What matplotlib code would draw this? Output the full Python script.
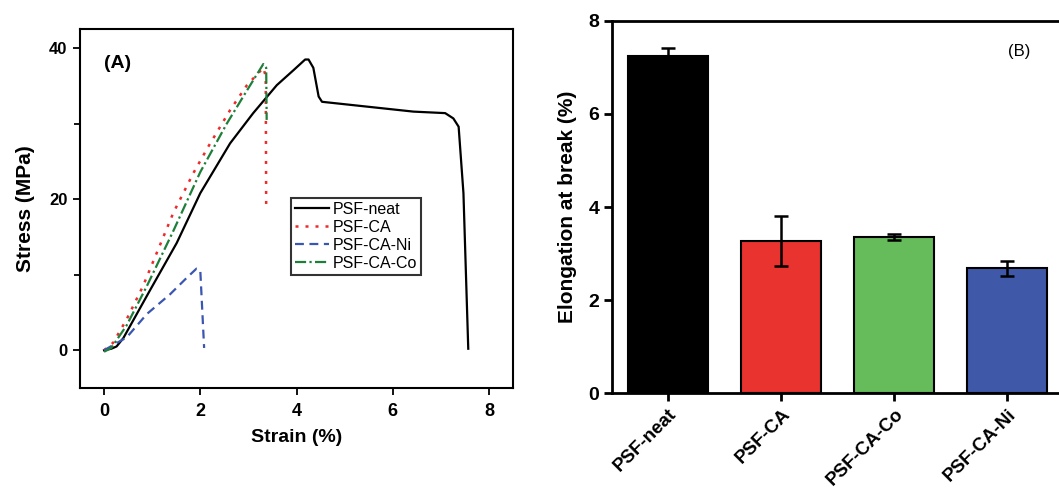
import matplotlib
matplotlib.use("Agg")
import matplotlib.pyplot as plt
from matplotlib.ticker import MultipleLocator

plt.rcParams['font.family'] = ['Liberation Sans', 'DejaVu Sans']

# ---- Panel A data (stress-strain curves) ----
neat_x = [0.0, 0.15, 0.26, 0.40, 0.96, 1.51, 2.00, 2.62, 3.10, 3.59, 3.94, 4.18, 4.25, 4.35, 4.46, 4.53, 6.43, 7.09, 7.26, 7.37, 7.47, 7.57]
neat_y = [0.0, 0.2, 0.5, 1.6, 8.0, 14.2, 20.8, 27.4, 31.4, 35.1, 37.1, 38.5, 38.5, 37.4, 33.6, 32.9, 31.6, 31.4, 30.7, 29.6, 20.8, 0.2]

ca_x = [0.0, 0.19, 0.47, 0.81, 1.44, 1.86, 2.17, 2.62, 2.97, 3.31, 3.36, 3.37]
ca_y = [0.0, 1.0, 4.1, 8.5, 18.2, 23.5, 27.0, 31.8, 35.1, 37.4, 36.3, 18.6]

ni_x = [0.0, 0.47, 0.89, 1.37, 1.72, 1.92, 2.00, 2.08]
ni_y = [0.0, 1.7, 4.8, 7.4, 9.6, 10.8, 10.6, 0.3]

co_x = [0.0, 0.15, 0.47, 0.89, 1.44, 2.00, 2.55, 2.97, 3.31, 3.37, 3.38]
co_y = [-0.2, 0.3, 3.3, 8.5, 15.8, 23.6, 30.0, 34.4, 37.9, 37.4, 30.5]

# ---- Panel B data (elongation at break) ----
categories = ["PSF-neat", "PSF-CA", "PSF-CA-Co", "PSF-CA-Ni"]
elongation = [7.25, 3.27, 3.36, 2.68]
elong_err = [0.16, 0.53, 0.06, 0.17]
bar_colors = ["#000000", "#E8332F", "#66BB5B", "#3F59A8"]

W, H = 1059, 490
fig = plt.figure(figsize=(W / 100, H / 100), dpi=100)

# ---------------- Panel A ----------------
axA = fig.add_axes([80 / W, 1 - 388 / H, (513 - 80) / W, (388 - 29.3) / H])
axA.plot(neat_x, neat_y, color='black', lw=1.6, ls='-', label='PSF-neat')
axA.plot(ca_x, ca_y, color='#EE2A2A', lw=1.8, ls=(0, (1.2, 2.8)), label='PSF-CA')
axA.plot(ni_x, ni_y, color='#3A56B0', lw=1.6, ls=(0, (4, 2.5)), label='PSF-CA-Ni')
axA.plot(co_x, co_y, color='#1E7F3A', lw=1.6, ls=(0, (5, 1.5, 1, 1.5)), label='PSF-CA-Co')
axA.set_xlim(-0.5, 8.5)
axA.set_ylim(-5, 42.5)
axA.xaxis.set_major_locator(MultipleLocator(2))
axA.yaxis.set_major_locator(MultipleLocator(20))
axA.yaxis.set_minor_locator(MultipleLocator(10))
axA.tick_params(axis='both', which='both', direction='out', width=1.3, top=False, right=False)
axA.tick_params(axis='both', which='major', length=5)
axA.tick_params(axis='y', which='minor', length=4)
axA.tick_params(axis='x', labelsize=13, pad=6)
axA.tick_params(axis='y', labelsize=12, pad=4)
for lab in axA.get_xticklabels() + axA.get_yticklabels():
    lab.set_fontweight('bold')
for sp in axA.spines.values():
    sp.set_linewidth(1.5)
axA.set_xlabel('Strain (%)', fontsize=14, fontweight='bold', labelpad=6)
axA.set_ylabel('Stress (MPa)', fontsize=15, fontweight='bold', labelpad=10)
axA.text(0.055, 0.905, '(A)', transform=axA.transAxes, fontsize=14, fontweight='bold',
         ha='left', va='center')
leg = axA.legend(loc='upper left', bbox_to_anchor=(291 / W, 1 - 198 / H),
                 bbox_transform=fig.transFigure, fontsize=11.5, frameon=True,
                 fancybox=False, edgecolor='black', handlelength=2.1,
                 handletextpad=0.25, labelspacing=0.18, borderpad=0.25,
                 borderaxespad=0)
leg.get_frame().set_linewidth(1.5)

# ---------------- Panel B ----------------
axB = fig.add_axes([611.7 / W, 1 - 393.3 / H, (1064 - 611.7) / W, (393.3 - 20.7) / H])
xpos = list(range(len(categories)))
axB.bar(xpos, elongation, width=0.707, color=bar_colors, edgecolor='black', linewidth=1.5,
        zorder=2)
axB.errorbar(xpos, elongation, yerr=elong_err, fmt='none', ecolor='black', elinewidth=1.8,
             capsize=5, capthick=1.8, zorder=3)
axB.set_xlim(-0.5, 3.5)
axB.set_ylim(0, 8)
axB.yaxis.set_major_locator(MultipleLocator(2))
axB.set_xticks(xpos)
axB.set_xticklabels(categories, rotation=45, ha='right', va='top', rotation_mode='anchor',
                    fontsize=13.5, fontweight='bold')
axB.tick_params(axis='x', direction='out', length=6, width=2, pad=3)
axB.tick_params(axis='y', direction='out', length=6, width=2, labelsize=14, pad=3)
for lab in axB.get_yticklabels():
    lab.set_fontweight('bold')
axB.spines['right'].set_visible(False)
for s in ['left', 'bottom', 'top']:
    axB.spines[s].set_linewidth(2)
axB.set_ylabel('Elongation at break (%)', fontsize=15, fontweight='bold', labelpad=8)
axB.text(1019 / W, 1 - 51.7 / H, '(B)', transform=fig.transFigure, fontsize=12,
         ha='center', va='center')

fig.savefig('out.png', dpi=100)
